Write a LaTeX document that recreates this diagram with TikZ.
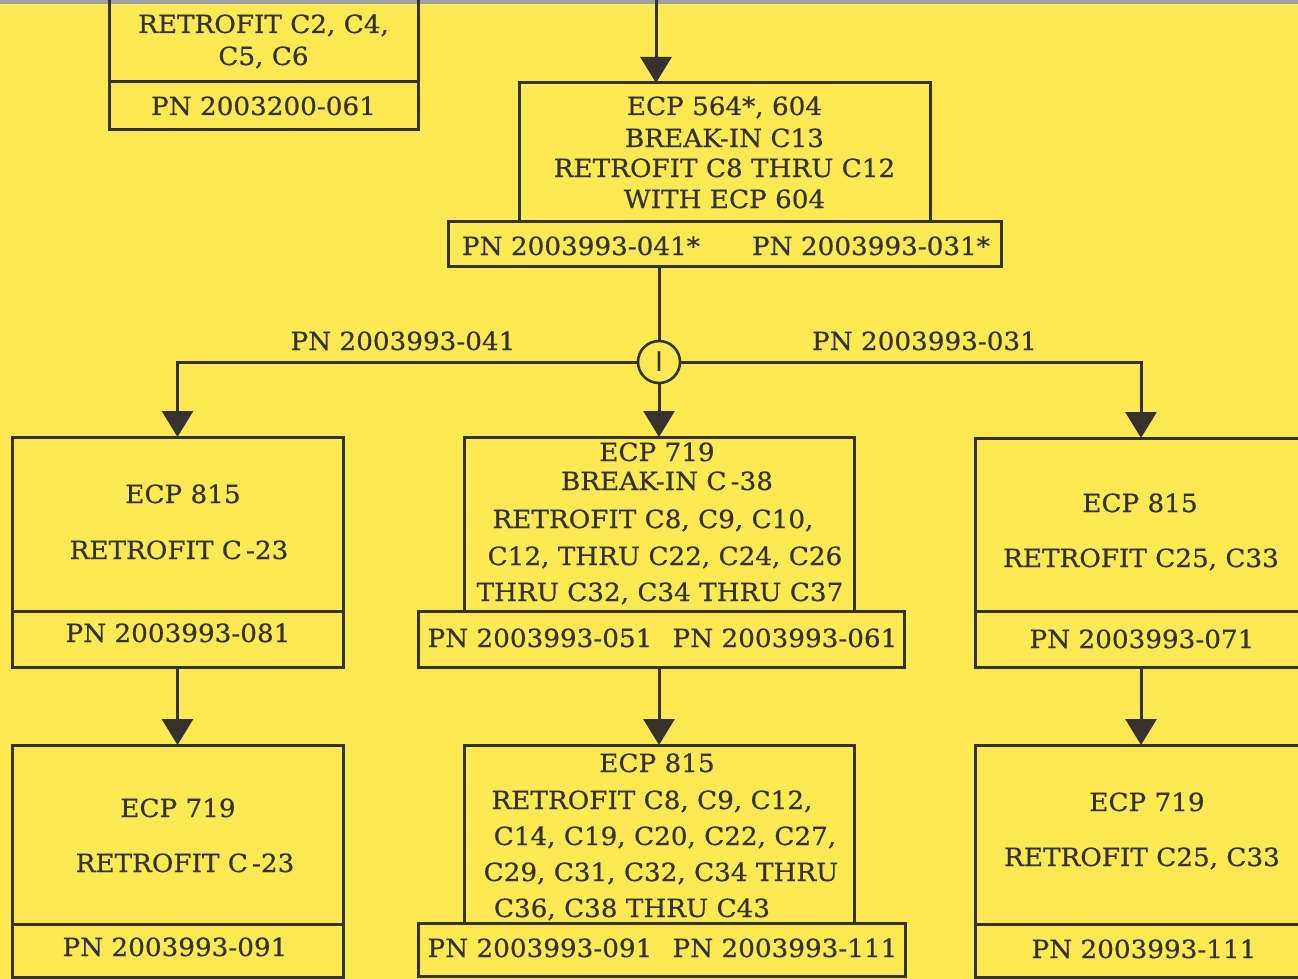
\documentclass[tikz,border=0pt]{standalone}
\usepackage{fontspec}
\setmainfont{DejaVu Serif}[FakeStretch=1.05,FakeBold=0.6]
\newfontfamily\barfont{DejaVu Sans}
\usetikzlibrary{arrows.meta}
\definecolor{paper}{RGB}{252,233,84}
\definecolor{ink}{RGB}{55,50,45}
\definecolor{edge}{RGB}{160,160,160}
\begin{document}
\begin{tikzpicture}[x=1pt,y=-1pt,
  box/.style={draw=ink, line width=3pt, inner sep=0pt, outer sep=0pt},
  txt/.style={text=ink, anchor=base, inner sep=0pt, font=\fontsize{25}{30}\selectfont},
  arr/.style={draw=ink, line width=3pt, -{Triangle[width=31pt,length=26pt]}},
  ln/.style={draw=ink, line width=3pt}]
\useasboundingbox (0,0) rectangle (1298,979);
\clip (0,0) rectangle (1298,979);
\fill[paper] (0,0) rectangle (1298,979);
\fill[edge] (0,0) rectangle (1298,4);
% boxes
\node[box, minimum width=309pt, minimum height=100pt] (tlu) at (263.5,32) {};
\node[box, minimum width=309pt, minimum height=48pt] (tlp) at (263.5,106) {};
\node[box, minimum width=411pt, minimum height=138pt] (b2u) at (724.5,152) {};
\node[box, minimum width=553pt, minimum height=45pt] (b2p) at (724.5,243.5) {};
\node[box, draw=ink, circle, minimum size=42pt, line width=2.6pt, font=\barfont\fontsize{27}{30}\selectfont, text=ink] (circ) at (659,362) {I};
\node[box, minimum width=331pt, minimum height=174pt] (l2u) at (177.5,524) {};
\node[box, minimum width=331pt, minimum height=56pt] (l2p) at (177.5,639) {};
\node[box, minimum width=390pt, minimum height=174pt] (m2u) at (659,524) {};
\node[box, minimum width=486pt, minimum height=56pt] (m2p) at (661,639) {};
\node[box, minimum width=331pt, minimum height=173pt] (r2u) at (1141,524.5) {};
\node[box, minimum width=331pt, minimum height=56pt] (r2p) at (1141,639) {};
\node[box, minimum width=331pt, minimum height=179pt] (l3u) at (177.5,834.5) {};
\node[box, minimum width=331pt, minimum height=53pt] (l3p) at (177.5,950.5) {};
\node[box, minimum width=390pt, minimum height=178pt] (m3u) at (659,834) {};
\node[box, minimum width=487pt, minimum height=53pt] (m3p) at (661.5,950) {};
\node[box, minimum width=331pt, minimum height=179pt] (r3u) at (1141,834.5) {};
\node[box, minimum width=331pt, minimum height=53pt] (r3p) at (1141,950.5) {};
% connectors
\coordinate (topin) at (656,0);
\draw[arr] (topin) -- (topin |- b2u.north);
\draw[ln] (circ |- b2p.south) -- (circ.north);
\draw[arr] (circ.west) -| (l2u.north);
\draw[arr] (circ.east) -| (r2u.north);
\draw[arr] (circ.south) -- (m2u.north);
\draw[arr] (l2p.south) -- (l3u.north);
\draw[arr] (m2u.south |- m2p.south) -- (m3u.north);
\draw[arr] (r2p.south) -- (r3u.north);
% texts
\node[txt] (t1) at (263.5,33) {RETROFIT C2, C4,};
\node[txt] (t2) at (263.5,65) {C5, C6};
\node[txt] (t3) at (263.5,115) {PN 2003200-061};
\node[txt] (t4) at (724.5,115) {ECP 564*, 604};
\node[txt] (t5) at (724.5,147) {BREAK-IN C13};
\node[txt] (t6) at (724.5,177) {RETROFIT C8 THRU C12};
\node[txt] (t7) at (724.5,208) {WITH ECP 604};
\node[txt] (t8) at (581,255) {PN 2003993-041*};
\node[txt] (t9) at (871,255) {PN 2003993-031*};
\node[txt] (lab1) at (403,350) {PN 2003993-041};
\node[txt] (lab2) at (924.5,350) {PN 2003993-031};
\node[txt] (t10) at (183,503) {ECP 815};
\node[txt] (t11) at (179,559) {RETROFIT C\,-23};
\node[txt] (t12) at (178,642) {PN 2003993-081};
\node[txt] (t13) at (657,461) {ECP 719};
\node[txt] (t14) at (667,490) {BREAK-IN C\,-38};
\node[txt] (t15) at (653,528) {RETROFIT C8, C9, C10,};
\node[txt] (t16) at (665,565) {C12, THRU C22, C24, C26};
\node[txt] (t17) at (660,601) {THRU C32, C34 THRU C37};
\node[txt] (t18) at (540,647) {PN 2003993-051};
\node[txt] (t19) at (785,647) {PN 2003993-061};
\node[txt] (t20) at (1140,512) {ECP 815};
\node[txt] (t21) at (1141,567) {RETROFIT C25, C33};
\node[txt] (t22) at (1142,648) {PN 2003993-071};
\node[txt] (t23) at (178,817) {ECP 719};
\node[txt] (t24) at (185,872) {RETROFIT C\,-23};
\node[txt] (t25) at (175,956) {PN 2003993-091};
\node[txt] (t26) at (657,772) {ECP 815};
\node[txt] (t27) at (652,809) {RETROFIT C8, C9, C12,};
\node[txt] (t28) at (665,845) {C14, C19, C20, C22, C27,};
\node[txt] (t29) at (661,881) {C29, C31, C32, C34 THRU};
\node[txt] (t30) at (632,917) {C36, C38 THRU C43};
\node[txt] (t31) at (540,957) {PN 2003993-091};
\node[txt] (t32) at (785,957) {PN 2003993-111};
\node[txt] (t33) at (1147,811) {ECP 719};
\node[txt] (t34) at (1142,866) {RETROFIT C25, C33};
\node[txt] (t35) at (1144,958) {PN 2003993-111};
\end{tikzpicture}
\end{document}
